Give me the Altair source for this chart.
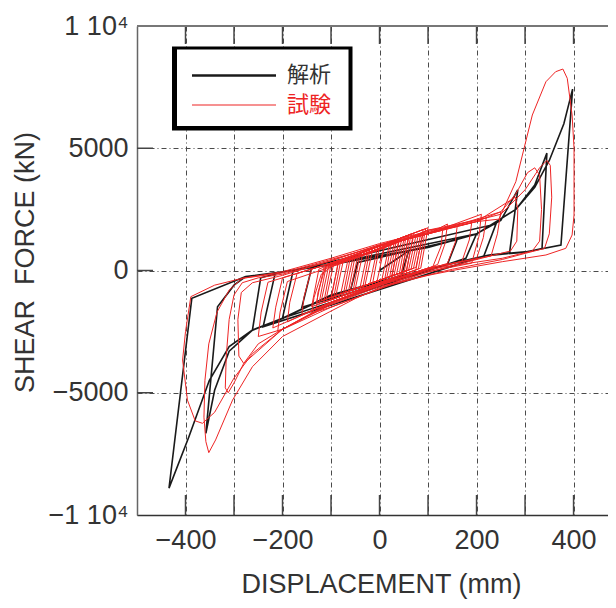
import altair as alt
import pandas as pd

# ---------------- data ----------------
# analysis (解析) path: displacement (mm), shear force (kN)
BLACK_X = [0, 60, 45, -60, -45, 160, 140, -160, -140,
           200, 178, -200, -178, 240, 215, -240, -215,
           -100, 0, 100, 200, 250, 285, 268, 226, 150, 0, -100, -200, -262,
           -245, -200, -100, 0, 100, 200, 281, 320, 345,
           335, 300, 226, 150, 0, -100, -200, -262, -310, -340, -358,
           -334, -300, -276, -200, -100, 0, 100, 200, 281, 320, 350, 380, 398,
           374, 300, 226, 150, 0, -104, -200, -262, -310, -351, -393, -434,
           -387, -276, -200, -100, 0]
BLACK_Y = [0, 800, -200, -820, 330, 1260, 250, -1500, 100,
           1500, 500, -1950, 0, 1900, 590, -2300, -100,
           250, 600, 950, 1500, 2050, 3300, 720, 634, 300, -450, -1000, -1950, -2434,
           -300, -60, 240, 590, 940, 1490, 2500, 3500, 4800,
           900, 750, 620, 290, -460, -1010, -1960, -2440, -3300, -4900, -6660,
           -1480, -600, -250, -50, 250, 600, 950, 1500, 2500, 3400, 4500, 6000, 7420,
           1043, 760, 634, 300, -450, -1070, -1955, -2434, -3115, -4500, -6800, -8900,
           -1137, -250, -50, 250, 600]

# experiment (試験) path
RED_X = [0, 10, -5, -20, -5, 30, 15, -40, -25, 45, 30, -60, -45, 60, 45, -80, -65,
         75, 60, -100, -85, 90, 75, -120, -105, 80, 65, -130, -115, 50, 35, -90, -75,
         70, 55, -50, -35, 20, 5, -110, -95, 85, 70, -70, -55, 40, 25, -30, -15,
         60, 45, -140, -125, 100, 85, -125, -110, 95, 80, -95, -80, 35, 20, -75, -60,
         55, 40, -55, -40, 65, 50, -35, -20, 25, 10, -15, 0, 40, 25, -100, -85,
         90, 75, -65, -50, 70, 55, -115, -100,
         0, 100, 130, 127, 110, 0, -100, -130, -127, -110, -100, 0, 100,
         140, 135, 120, 0, -100, -140, -135, -120, -100, 0, 100,
         160, 156, 140, 0, -100, -160, -156, -140, -100, 0, 100,
         190, 185, 170, 0, -100, -190, -185, -170, -100, 0, 100,
         210, 205, 190, 100, 0, -100, -210, -205, -190, -100, 0, 100,
         220, 214, 200, 100, 0, -100, -220, -214, -200, -100, 0, 100,
         250, 243, 230, 100, 0, -100, -200, -250, -244, -230, -100, 0, 100, 200,
         280, 285, 283, 270, 150, 0, -100, -200, -280, -290, -292, -285, -262, -200, -100, 0, 100, 200,
         250, 280, 305, 320, 330, 334, 330, 315, 253, 100, 0, -100, -200, -250, -280, -300, -312,
         -318, -316, -310, -300, -283, -250, -200, -100, 0, 100, 200,
         246, 281, 298, 315, 343, 363, 378, 387, 397, 401, 401, 397, 384, 343, 253, 150, 100, 0,
         -50, -104, -200, -262, -303, -338, -352, -358, -362, -360, -352, -335, -310, -283,
         -200, -100, 0, 100, 200, 250, 300, 330, 345, 352, 355, 350, 340, 300, 253, 150, 0,
         -100, -200, -262, -300, -340, -365, -380, -396, -406, -400, -389, -340, -283, -200, -100, 0]
RED_Y = [300, 970, -435, -540, 865, 1110, -295, -680, 725, 1215, -190, -820, 585, 1320, -85, -960, 445,
         1425, 20, -1100, 305, 1530, 125, -1240, 165, 1460, 55, -1310, 95, 1250, -155, -1030, 375,
         1390, -15, -750, 655, 1040, -365, -1170, 235, 1495, 90, -890, 515, 1180, -225, -610, 795,
         1450, -185, -1480, 60, 1750, 95, -1375, 175, 1710, 60, -1165, 400, 1260, -360, -1025, 550,
         1410, -220, -885, 700, 1490, -150, -745, 850, 1190, -430, -605, 1000, 1300, -325, -1200, 360,
         1675, 25, -955, 625, 1525, -115, -1305, 250,
         1000, 1500, 1650, 1000, 160, -550, -1300, -1550, -900, 240, 300, 1000, 1500,
         1900, 1100, 250, -750, -1500, -1750, -1100, -150, 150, 850, 1650,
         1800, 1150, 290, -550, -1300, -1800, -1100, 60, 300, 1000, 1500,
         1950, 1250, 380, -550, -1300, -2100, -1300, -120, 300, 1000, 1500,
         2300, 1400, 300, -50, -750, -1500, -2500, -1700, -450, 150, 850, 1650,
         2150, 1350, 480, 100, -550, -1300, -2350, -1500, -300, 300, 1000, 1500,
         2400, 1500, 600, 100, -550, -1300, -2400, -2700, -1700, -480, 300, 1000, 1500, 2000,
         3000, 2500, 1200, 800, 200, -600, -1350, -2400, -3800, -3500, -2000, -900, -500, -200, 400, 1050, 1550, 2000,
         2400, 3100, 4000, 4200, 3900, 2500, 1200, 800, 500, 50, -600, -1350, -2400, -3000, -3800, -4600, -5000,
         -4800, -3500, -2000, -1000, -500, -300, -150, 400, 1050, 1550, 2000,
         2100, 3632, 5000, 6360, 7720, 8130, 8240, 7860, 6360, 5000, 2270, 1452, 908, 634, 360, 0, -200, -700,
         -1150, -1700, -2700, -3934, -5300, -6930, -7450, -7000, -6000, -4500, -3000, -1700, -800, -320,
         -50, 500, 1100, 1600, 2050, 2300, 3300, 4200, 4500, 4300, 3000, 1500, 900, 700, 450, 50, -650,
         -1400, -2400, -3400, -4400, -5800, -6250, -6150, -5300, -3660, -2500, -1070, -600, -320, -100, 450, 1000]

X_TICKS = [-400, -300, -200, -100, 0, 100, 200, 300, 400]
Y_TICKS = [-10000, -5000, 0, 5000, 10000]
INNER_Y_TICKS = [-5000, 0, 5000]
LEGEND_LABELS = ["解析", "試験"]

# ---------------- layout ----------------
W, H = 471, 489
XDOM = [-500, 471]
FONT = "Liberation Sans"
CJK = "Noto Sans CJK JP"
BLACK = "#1a1a1a"
RED = "#ee2424"
GRID = "#4a4a4a"

black_df = pd.DataFrame({"x": BLACK_X, "y": BLACK_Y, "i": range(len(BLACK_X))})
red_df = pd.DataFrame({"x": RED_X, "y": RED_Y, "i": range(len(RED_X))})

xscale = alt.Scale(domain=XDOM, nice=False, zero=False)
yscale = alt.Scale(domain=[-10000, 10000], nice=False, zero=False)

xaxis = alt.Axis(
    values=X_TICKS,
    labelExpr="datum.value % 200 == 0 ? (datum.value < 0 ? '\u2212' + format(-datum.value, 'd') : format(datum.value, 'd')) : ''",
    grid=True, gridDash=[5, 3, 1, 3], gridColor=GRID, gridWidth=1, gridOpacity=1,
    ticks=False, domain=True, domainColor="#333333", domainWidth=1.5,
    labelFont=FONT, labelFontSize=27, labelColor="#333333", labelPadding=12,
    labelFlush=False, labelOverlap=False,
    title="DISPLACEMENT (mm)", titleFont=FONT, titleFontSize=27, titleFontWeight="normal",
    titleColor="#333333", titleX=244, titleY=56, titleBaseline="top", titleAlign="center",
)
yaxis = alt.Axis(
    values=Y_TICKS,
    labelExpr="datum.value == 10000 ? '1 10\u2074' : datum.value == -10000 ? '\u22121 10\u2074' : (datum.value < 0 ? '\u2212' + format(-datum.value, 'd') : format(datum.value, 'd'))",
    grid=True, gridDash=[5, 3, 1, 3], gridColor=GRID, gridWidth=1, gridOpacity=1,
    ticks=False, domain=True, domainColor="#666666", domainWidth=1.5,
    labelFont=FONT, labelFontSize=27, labelColor="#333333", labelPadding=9,
    labelFlush=False, labelOverlap=False,
    title="SHEAR\u00a0 FORCE (kN)", titleFont=FONT, titleFontSize=27, titleFontWeight="normal",
    titleColor="#333333", titleX=-112, titleY=236, titleAngle=270,
    titleBaseline="middle", titleAlign="center",
)

X = alt.X("x:Q", scale=xscale, axis=xaxis)
Y = alt.Y("y:Q", scale=yscale, axis=yaxis)

black_line = alt.Chart(black_df).mark_line(color=BLACK, strokeWidth=1.6, clip=True).encode(
    x=X, y=Y, order="i:Q")
red_line = alt.Chart(red_df).mark_line(color=RED, strokeWidth=1, clip=True).encode(
    x=X, y=Y, order="i:Q")

xt_df = pd.DataFrame({"x": X_TICKS})
yt_df = pd.DataFrame({"y": INNER_Y_TICKS})
top_ticks = alt.Chart(xt_df).mark_rule(color="#444444", strokeWidth=1.5).encode(
    x=X, y=alt.value(0), y2=alt.value(18))
bottom_ticks = alt.Chart(xt_df).mark_rule(color="#444444", strokeWidth=1.5).encode(
    x=X, y=alt.value(H - 20), y2=alt.value(H))
left_ticks = alt.Chart(yt_df).mark_rule(color="#444444", strokeWidth=1.5).encode(
    y=Y, x=alt.value(0), x2=alt.value(16))

one = pd.DataFrame({"k": [0]})
top_frame = alt.Chart(one).mark_rule(color="#777777", strokeWidth=2).encode(
    x=alt.value(0), x2=alt.value(W), y=alt.value(0))

legend_outer = alt.Chart(one).mark_rect(color="#000000").encode(
    x=alt.value(35), x2=alt.value(215.5), y=alt.value(20.5), y2=alt.value(104.5))
legend_inner = alt.Chart(one).mark_rect(color="#ffffff").encode(
    x=alt.value(40), x2=alt.value(211.5), y=alt.value(23.5), y2=alt.value(100))
legend_black = alt.Chart(one).mark_rule(color=BLACK, strokeWidth=2.5).encode(
    x=alt.value(55), x2=alt.value(139), y=alt.value(49.5))
legend_red = alt.Chart(one).mark_rule(color=RED, strokeWidth=1.2).encode(
    x=alt.value(55), x2=alt.value(139), y=alt.value(79))
legend_t1 = alt.Chart(one).mark_text(text=LEGEND_LABELS[0], font=CJK, fontSize=22, color="#333333",
                                      align="left", baseline="middle").encode(
    x=alt.value(150), y=alt.value(49))
legend_t2 = alt.Chart(one).mark_text(text=LEGEND_LABELS[1], font=CJK, fontSize=22, color=RED,
                                      align="left", baseline="middle").encode(
    x=alt.value(150), y=alt.value(79))

chart = alt.layer(
    black_line, red_line, top_ticks, bottom_ticks, left_ticks, top_frame,
    legend_outer, legend_inner, legend_black, legend_red, legend_t1, legend_t2,
).properties(
    width=W, height=H,
    autosize=alt.AutoSizeParams(type="none"),
    padding={"left": 129, "top": 18, "right": 0, "bottom": 85},
).configure_view(stroke=None).configure(background="white")

chart.save("out.html", embed_options={"renderer": "svg", "actions": False})
